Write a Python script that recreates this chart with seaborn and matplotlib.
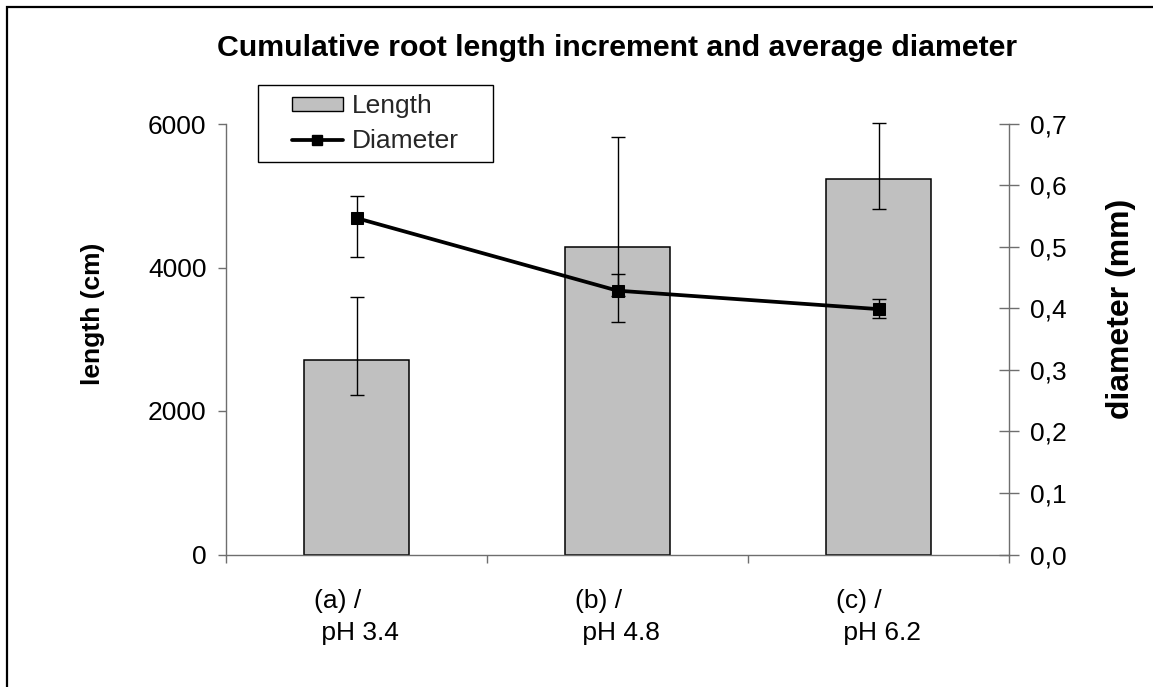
import numpy as np
import pandas as pd
import matplotlib
matplotlib.use("Agg")
import matplotlib.pyplot as plt
from matplotlib.patches import Patch, Rectangle
from matplotlib.lines import Line2D
import seaborn as sns

# Treatments (pH of the nutrient solution)
categories = ["(a) /\n pH 3.4", "(b) /\n pH 4.8", "(c) /\n pH 6.2"]

# Cumulative root length increment (cm) with asymmetric error ranges
length = [2710, 4280, 5230]
length_err_low = [483, 1040, 415]
length_err_high = [875, 1543, 780]

# Average root diameter (mm) with asymmetric error ranges
diameter = [0.547, 0.429, 0.399]
diameter_err_low = [0.063, 0.008, 0.015]
diameter_err_high = [0.036, 0.027, 0.0165]

left_ticks = [0, 2000, 4000, 6000]
right_ticks = [0.0, 0.1, 0.2, 0.3, 0.4, 0.5, 0.6, 0.7]
right_tick_labels = [f"{v:.1f}".replace(".", ",") for v in right_ticks]

sns.set_theme(style="white")
plt.rcParams["font.family"] = ["Liberation Sans", "DejaVu Sans"]

W, H = 1153, 687
fig = plt.figure(figsize=(W / 100, H / 100), dpi=100)
fig.patch.set_facecolor("white")

ax = fig.add_axes([226 / W, 1 - 554.5 / H, (1009 - 226) / W, (554.5 - 124) / H])
df = pd.DataFrame({"treatment": categories, "length": length})

sns.barplot(data=df, x="treatment", y="length", order=categories,
            color="#C0C0C0", saturation=1, edgecolor="black", linewidth=1.1,
            width=0.4, errorbar=None, ax=ax, zorder=2)
pos = np.arange(len(categories))
ax.errorbar(pos, length, yerr=[length_err_low, length_err_high], fmt="none",
            ecolor="black", elinewidth=1.0, capsize=5.3, capthick=1.0, zorder=3,
            clip_on=False)

spine_col = "#6e6e6e"
ax.set_xlim(-0.5, len(categories) - 0.5)
ax.set_ylim(0, 6000)
ax.set_yticks(left_ticks)
ax.set_yticklabels([str(v) for v in left_ticks])
ax.set_xticks(pos)
ax.set_xticklabels(categories, multialignment="left", linespacing=1.4)
ax.set_xticks(np.arange(len(categories) + 1) - 0.5, minor=True)
ax.tick_params(axis="x", which="major", length=0, pad=25, labelsize=19, colors="black")
ax.tick_params(axis="x", which="minor", length=6, width=1, direction="out", color=spine_col, bottom=True)
ax.tick_params(axis="y", which="major", length=6, width=1, direction="out", pad=8,
               labelsize=19, color=spine_col, labelcolor="black", left=True)
for s in ["top", "right"]:
    ax.spines[s].set_visible(False)
for s in ["left", "bottom"]:
    ax.spines[s].set_color(spine_col)
    ax.spines[s].set_linewidth(1.0)
ax.set_xlabel("")
ax.set_ylabel("length (cm)", fontsize=19, fontweight="bold", color="black")
ax.yaxis.set_label_coords(-0.1545, 0.558)
ax.grid(False)

ax2 = ax.twinx()
sns.lineplot(x=pos, y=diameter, ax=ax2, color="black", linewidth=2.7,
             marker="s", markersize=8, markeredgecolor="black", sort=False, zorder=4)
ax2.errorbar(pos, diameter, yerr=[diameter_err_low, diameter_err_high], fmt="none",
             ecolor="black", elinewidth=1.0, capsize=5.0, capthick=1.0, zorder=3)
ax2.set_ylim(0, 0.7)
ax2.set_yticks(right_ticks)
ax2.set_yticklabels(right_tick_labels)
ax2.tick_params(axis="y", which="major", length=14, width=1, direction="inout", pad=8,
                labelsize=19, color=spine_col, labelcolor="black", right=True)
for s in ["top", "left", "bottom"]:
    ax2.spines[s].set_visible(False)
ax2.spines["right"].set_color(spine_col)
ax2.spines["right"].set_linewidth(1.0)
ax2.set_ylabel("diameter (mm)", fontsize=23, fontweight="bold", color="black")
ax2.yaxis.set_label_coords(1.124, 0.57)
ax2.grid(False)
ax2.set_xlim(-0.5, len(categories) - 0.5)

fig.text((226 + 1009) / 2 / W, 1 - 48 / H,
         "Cumulative root length increment and average diameter",
         ha="center", va="center", fontsize=21.8, fontweight="bold", color="black")

# Legend: entries plus a plain rectangular frame
handles = [
    Patch(facecolor="#C0C0C0", edgecolor="black", linewidth=1.0, label="Length"),
    Line2D([], [], color="black", linewidth=2.7, marker="s", markersize=7, label="Diameter"),
]
leg = fig.legend(handles=handles, loc="upper left", bbox_to_anchor=(292 / W, 1 - 94 / H),
                 fontsize=19, frameon=False,
                 handlelength=1.93, handleheight=0.45, handletextpad=0.34,
                 borderpad=0, labelspacing=0.42, borderaxespad=0)
fig.patches.append(Rectangle((258 / W, 1 - 162 / H), (493 - 258) / W, (162 - 85) / H,
                             transform=fig.transFigure, fill=False,
                             edgecolor="black", linewidth=1.0, zorder=5))

# Chart-area frame
fig.patches.append(Rectangle((7 / W, -0.5), 2.0, 1.5 - 7 / H, transform=fig.transFigure,
                             fill=False, edgecolor="black", linewidth=1.6))

fig.savefig("out.png", dpi=100)
